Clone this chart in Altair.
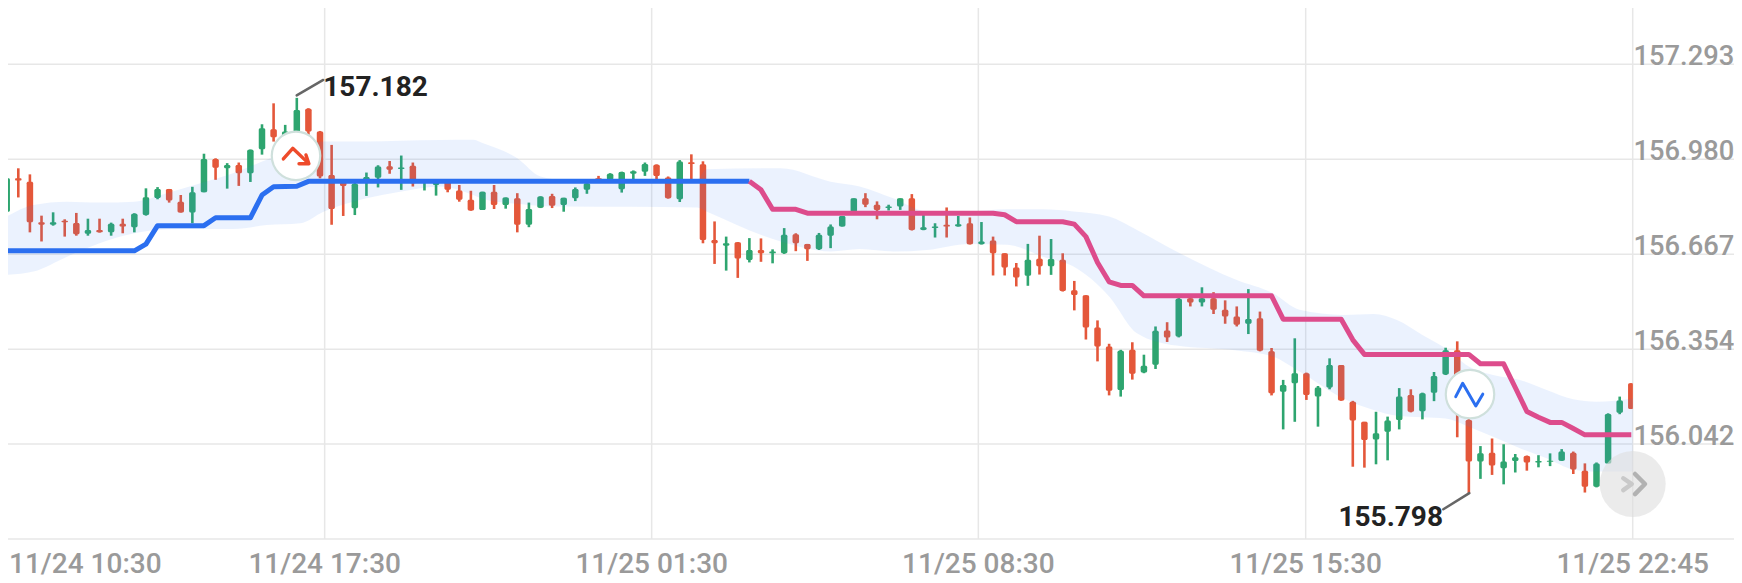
import altair as alt
import pandas as pd

# ---------- values ----------
opens = [156.807,156.917,156.906,156.772,156.764,156.777,156.770,156.734,156.747,156.739,
156.767,156.756,156.796,156.852,156.882,156.840,156.804,156.871,156.981,156.950,
156.961,156.934,157.013,157.079,157.044,157.060,157.146,157.071,156.928,156.907,
156.818,156.906,156.919,156.957,156.948,156.958,156.903,156.895,156.906,156.877,
156.846,156.813,156.873,156.829,156.851,156.764,156.820,156.859,156.829,156.851,
156.879,156.917,156.912,156.881,156.932,156.939,156.962,156.920,156.848,156.970,
156.963,156.714,156.695,156.706,156.648,156.681,156.670,156.670,156.733,156.701,
156.683,156.728,156.758,156.807,156.851,156.830,156.819,156.824,156.851,156.747,
156.753,156.764,156.758,156.769,156.700,156.712,156.670,156.623,156.596,156.652,
156.627,156.649,156.548,156.532,156.426,156.363,156.220,156.352,156.277,156.303,
156.416,156.396,156.522,156.508,156.522,156.484,156.462,156.438,156.456,156.347,
156.214,156.242,156.275,156.198,156.228,156.302,156.181,156.115,156.057,156.082,
156.121,156.203,156.150,156.211,156.271,156.351,156.121,155.984,156.013,155.962,
155.986,156.002,155.981,155.983,155.987,156.013,155.954,155.901,155.978,156.145,
156.242]
closes = [156.917,156.910,156.772,156.764,156.772,156.772,156.733,156.747,156.739,156.767,
156.758,156.800,156.855,156.882,156.844,156.804,156.871,156.981,156.952,156.961,
156.934,157.011,157.082,157.052,157.071,157.142,157.071,156.923,156.816,156.892,
156.899,156.921,156.956,156.945,156.953,156.901,156.912,156.912,156.879,156.846,
156.811,156.873,156.829,156.854,156.764,156.816,156.857,156.827,156.853,156.882,
156.901,156.912,156.932,156.938,156.940,156.964,156.925,156.851,156.972,156.964,
156.714,156.703,156.703,156.653,156.681,156.670,156.676,156.731,156.703,156.683,
156.731,156.758,156.793,156.851,156.830,156.813,156.824,156.851,156.747,156.756,
156.758,156.758,156.766,156.700,156.709,156.670,156.623,156.590,156.649,156.627,
156.651,156.546,156.533,156.426,156.363,156.217,156.349,156.273,156.300,156.415,
156.393,156.520,156.508,156.522,156.484,156.462,156.435,156.454,156.349,156.209,
156.236,156.275,156.203,156.228,156.302,156.185,156.119,156.055,156.077,156.119,
156.198,156.148,156.209,156.266,156.351,156.198,155.984,156.011,155.971,155.984,
155.998,155.981,155.986,155.987,156.017,155.958,155.901,155.978,156.141,156.185,
156.157]
highs = [156.948,156.950,156.930,156.794,156.805,156.782,156.803,156.784,156.784,156.771,
156.784,156.802,156.884,156.888,156.882,156.862,156.889,156.998,156.983,156.967,
156.969,157.012,157.095,157.164,157.093,157.182,157.148,157.073,157.027,156.910,
156.907,156.936,156.960,156.974,156.992,156.969,156.914,156.912,156.906,156.895,
156.876,156.873,156.895,156.854,156.868,156.837,156.858,156.866,156.853,156.887,
156.901,156.925,156.934,156.939,156.943,156.969,156.963,156.923,156.977,156.996,
156.973,156.775,156.725,156.707,156.720,156.719,156.683,156.753,156.736,156.701,
156.737,156.765,156.793,156.851,156.868,156.841,156.830,156.851,156.865,156.797,
156.769,156.821,156.793,156.788,156.773,156.725,156.670,156.638,156.701,156.728,
156.717,156.670,156.579,156.532,156.449,156.372,156.352,156.377,156.336,156.429,
156.443,156.528,156.528,156.558,156.542,156.515,156.495,156.552,156.478,156.358,
156.253,156.390,156.277,156.233,156.324,156.302,156.184,156.115,156.148,156.132,
156.226,156.222,156.211,156.279,156.359,156.380,156.126,156.035,156.060,156.041,
156.009,156.004,156.005,156.011,156.025,156.017,155.978,155.981,156.143,156.198,
156.242]
lows = [156.807,156.854,156.739,156.709,156.761,156.725,156.728,156.728,156.738,156.728,
156.736,156.739,156.794,156.848,156.837,156.804,156.769,156.871,156.912,156.883,
156.892,156.905,156.995,157.038,157.033,157.055,157.060,156.917,156.764,156.793,
156.796,156.859,156.887,156.932,156.879,156.890,156.877,156.860,156.871,156.840,
156.810,156.813,156.816,156.817,156.739,156.756,156.819,156.819,156.807,156.842,
156.866,156.910,156.906,156.870,156.912,156.925,156.912,156.850,156.839,156.912,
156.703,156.635,156.613,156.589,156.640,156.642,156.637,156.668,156.677,156.645,
156.681,156.687,156.758,156.807,156.822,156.782,156.811,156.813,156.745,156.746,
156.722,156.722,156.758,156.699,156.699,156.597,156.597,156.561,156.563,156.600,
156.599,156.544,156.482,156.386,156.314,156.202,156.198,156.254,156.275,156.289,
156.378,156.393,156.495,156.495,156.470,156.438,156.429,156.404,156.347,156.202,
156.090,156.115,156.187,156.099,156.222,156.184,155.967,155.964,155.975,155.988,
156.090,156.146,156.123,156.183,156.269,156.064,155.879,155.927,155.940,155.909,
155.948,155.954,155.965,155.969,155.986,155.943,155.882,155.899,155.978,156.140,
156.157]
slots = list(range(1, len(opens) + 1))

blue_slots = [1,12,13,14,18,19,22,23,24,25,26,27,65]
blue_price = [156.678,156.678,156.700,156.761,156.761,156.787,156.787,156.862,156.889,156.890,156.891,156.907,156.907]
pink_slots = [65,66,67,69,70,86,87,88,92,93,94,95,96,97,98,99,110,111,116,117,118,127,128,130,131,132,133,134,135,136,137,141]
pink_price = [156.907,156.879,156.815,156.815,156.802,156.802,156.797,156.774,156.774,156.766,156.725,156.640,156.576,156.564,156.564,156.530,156.530,156.453,156.453,156.385,156.337,156.337,156.306,156.306,156.228,156.149,156.130,156.113,156.113,156.093,156.072,156.072]

band_slots = [1,3.3,6.2,9,12,14.8,17.7,20.5,23.4,26.3,28.3,32,34.9,38.4,41.2,42,45,47,49,60.5,61.3,67.7,72,74.5,77.4,80.3,84,87.2,90.3,92.9,96,98.4,101.8,107,110.1,112.4,116.2,118.8,120.8,123,125,127,129.1,131.4,133.7,136,138,141.12]
band_top = [156.791,156.829,156.840,156.837,156.840,156.868,156.901,156.934,156.978,157.022,157.038,157.038,157.041,157.043,157.044,157.033,156.983,156.923,156.912,156.914,156.947,156.950,156.906,156.890,156.851,156.808,156.808,156.815,156.815,156.808,156.791,156.747,156.676,156.582,156.539,156.484,156.467,156.470,156.450,156.401,156.357,156.297,156.269,156.253,156.220,156.189,156.181,156.192]
band_low = [156.599,156.610,156.659,156.703,156.736,156.749,156.750,156.750,156.763,156.769,156.807,156.851,156.873,156.890,156.862,156.850,156.833,156.826,156.824,156.821,156.808,156.709,156.676,156.684,156.676,156.681,156.701,156.698,156.659,156.627,156.528,156.407,156.366,156.350,156.330,156.281,156.192,156.154,156.135,156.130,156.126,156.099,156.066,156.028,155.995,155.958,155.951,155.951]

price_ticks = [157.293,156.980,156.667,156.354,156.042]
price_labels = ["157.293","156.980","156.667","156.354","156.042"]
first_time_slot = 1.2
time_slots = [28.40,56.58,84.73,112.94,141.12]
time_grid = [28.40,56.58,84.73,112.94,141.12]
time_labels = ["11/24 10:30","11/24 17:30","11/25 01:30","11/25 08:30","11/25 15:30","11/25 22:45"]
callout_text = ["157.182","155.798"]

GREEN, RED = "#2ea56f", "#e4573a"
BLUE, PINK = "#2b6ff0", "#dd4c8c"
GRID = "#e7e7e7"
LABEL = "#9a9a9a"
FONT = "Roboto"

# ---------- scales ----------
SX = alt.Scale(domain=[1.112, 149.85], nice=False, zero=False)
SY = alt.Scale(domain=[155.584, 157.478], nice=False, zero=False)
AXIS_BOTTOM = 155.729
LAST = 141.12
HALF = 0.28

def X(f="k"):
    return alt.X(f"{f}:Q", scale=SX, axis=None, title=None)

def Y(f="p"):
    return alt.Y(f"{f}:Q", scale=SY, axis=None, title=None)

candles = pd.DataFrame({"k": slots, "o": opens, "h": highs, "l": lows, "c": closes})
candles["top"] = candles[["o", "c"]].max(axis=1)
candles["bot"] = candles[["o", "c"]].min(axis=1)
candles["x0"] = candles["k"] - HALF
candles["x1"] = (candles["k"] + HALF).clip(upper=LAST)
candles["dir"] = ["up" if c >= o else "down" for o, c in zip(opens, closes)]
COL = alt.Color("dir:N", scale=alt.Scale(domain=["up", "down"], range=[GREEN, RED]), legend=None)

hgrid = alt.Chart(pd.DataFrame({"p": price_ticks + [AXIS_BOTTOM]})).mark_rule(
    color=GRID, strokeWidth=1.5).encode(y=Y())
vgrid = alt.Chart(pd.DataFrame({"k": time_grid, "p": [157.478] * 5, "p2": [AXIS_BOTTOM] * 5})).mark_rule(
    color=GRID, strokeWidth=1.5).encode(x=X(), y=Y(), y2="p2:Q")

wicks = alt.Chart(candles).mark_rule(strokeWidth=2.6).encode(x=X(), y=Y("l"), y2="h:Q", color=COL)
bodies = alt.Chart(candles).mark_rect(cornerRadius=1.5).encode(
    x=X("x0"), x2="x1:Q", y=Y("bot"), y2="top:Q", color=COL)

band = alt.Chart(pd.DataFrame({"k": band_slots, "a": band_top, "b": band_low})).mark_area(
    color="#3b82f6", opacity=0.1, interpolate="monotone").encode(x=X(), y=Y("a"), y2="b:Q")

blue = alt.Chart(pd.DataFrame({"k": blue_slots, "p": blue_price})).mark_line(
    color=BLUE, strokeWidth=5, strokeJoin="round").encode(x=X(), y=Y())
pink = alt.Chart(pd.DataFrame({"k": pink_slots, "p": pink_price})).mark_line(
    color=PINK, strokeWidth=5, strokeJoin="round").encode(x=X(), y=Y())

badges = alt.Chart(pd.DataFrame({"k": [25.93, 127.1], "p": [156.991, 156.206]})).mark_circle(
    size=2350, color="white", opacity=1, stroke="#cfe0dc", strokeWidth=2.2).encode(x=X(), y=Y())

def polyline(xs, ys, groups, color, width, opacity=1.0):
    return alt.Chart(pd.DataFrame({"k": xs, "p": ys, "g": groups})).mark_line(
        color=color, strokeWidth=width, opacity=opacity, strokeJoin="round", strokeCap="round"
    ).encode(x=X(), y=Y(), detail="g:N", order=alt.Order("i:Q")).transform_window(i="row_number()", groupby=["g"])

down_icon = polyline(
    [24.84, 25.65, 26.99, 26.19, 27.04, 26.79],
    [156.981, 157.016, 156.967, 156.965, 156.965, 156.994],
    [0, 0, 0, 1, 1, 1], "#ee4b2b", 3.4)
wave_icon = polyline([125.87, 126.47, 127.6, 128.2], [156.198, 156.242, 156.167, 156.206],
                     [0, 0, 0, 0], BLUE, 3.0)

leaders = polyline([25.99, 28.28, 127.04, 124.8], [157.190, 157.241, 155.880, 155.827],
                   [0, 0, 1, 1], "#666666", 2.5)

hi_text = alt.Chart(pd.DataFrame({"k": [28.28], "p": [157.213], "t": [callout_text[0]]})).mark_text(
    font=FONT, fontSize=28, fontWeight=700, color="#222222", align="left", baseline="middle"
).encode(x=X(), y=Y(), text="t:N")
lo_text = alt.Chart(pd.DataFrame({"k": [124.77], "p": [155.798], "t": [callout_text[1]]})).mark_text(
    font=FONT, fontSize=28, fontWeight=700, color="#222222", align="right", baseline="middle"
).encode(x=X(), y=Y(), text="t:N")

price_text = alt.Chart(pd.DataFrame({"k": [141.19] * 5, "p": price_ticks, "t": price_labels})).mark_text(
    font=FONT, fontSize=27.3, fontWeight=500, color=LABEL, align="left", baseline="middle", dy=-7
).encode(x=X(), y=Y(), text="t:N")
first_time = alt.Chart(pd.DataFrame({"k": [first_time_slot], "p": [AXIS_BOTTOM], "t": time_labels[:1]})).mark_text(
    font=FONT, fontSize=28, fontWeight=500, color=LABEL, align="left", baseline="middle", dy=26
).encode(x=X(), y=Y(), text="t:N")
time_text = alt.Chart(pd.DataFrame({"k": time_slots, "p": [AXIS_BOTTOM] * 5, "t": time_labels[1:]})).mark_text(
    font=FONT, fontSize=28, fontWeight=500, color=LABEL, align="center", baseline="middle", dy=26
).encode(x=X(), y=Y(), text="t:N")

button = alt.Chart(pd.DataFrame({"k": [141.12], "p": [155.910]})).mark_circle(
    size=4356, color="#dedede", opacity=0.6).encode(x=X(), y=Y())
chev1 = polyline([140.31, 141.04, 140.31], [155.929, 155.910, 155.890], [0, 0, 0], "#c9c9c9", 4.5)
chev2 = polyline([141.32, 142.18, 141.32], [155.943, 155.910, 155.877], [0, 0, 0], "#b2b2b2", 4.5)

chart = alt.layer(
    hgrid, vgrid, wicks, bodies, band, blue, pink, leaders, badges,
    down_icon, wave_icon, hi_text, lo_text, price_text, first_time, time_text, button, chev1, chev2
).properties(
    width=1726, height=575, padding=0,
    autosize=alt.AutoSizeParams(type="none"),
    background="white",
).configure_view(stroke=None)

chart.save("out.html", embed_options={"renderer": "svg", "actions": False})
